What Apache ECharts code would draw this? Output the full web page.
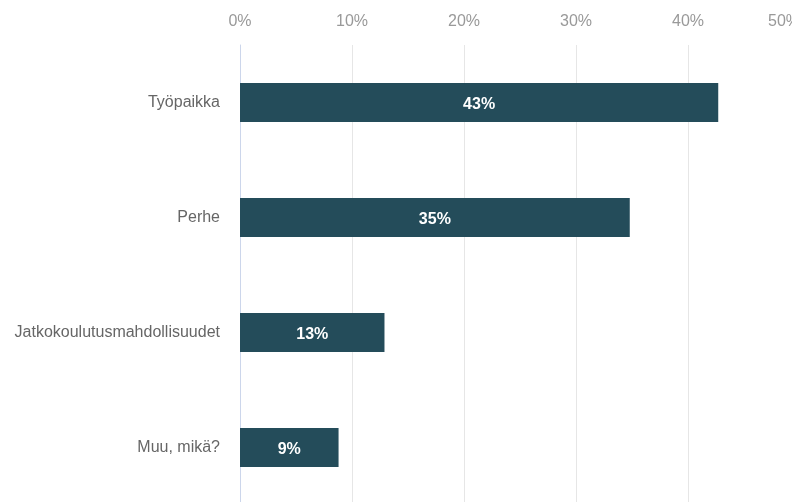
<!DOCTYPE html>
<html><head><meta charset="utf-8">
<script src="https://cdn.jsdelivr.net/npm/echarts@6/dist/echarts.min.js"></script>
<style>html,body{margin:0;padding:0;background:#fff}#c{width:792px;height:502px}</style>
</head><body><div id="c"></div>
<script>
const categories = ["Työpaikka", "Perhe", "Jatkokoulutusmahdollisuudet", "Muu, mikä?"];
const values = [42.7, 34.8, 12.9, 8.8];
const tickLabels = ["0%", "10%", "20%", "30%", "40%", "50%"];

const chart = echarts.init(document.getElementById('c'), null, {renderer: 'canvas'});
chart.setOption({
  animation: false,
  textStyle: {fontFamily: 'Liberation Sans, Arial, sans-serif'},
  grid: {left: 240, top: 45, width: 560, height: 460, containLabel: false, outerBoundsMode: 'none'},
  xAxis: {
    type: 'value', position: 'top', min: 0, max: 50, interval: 10,
    axisLine: {show: false}, axisTick: {show: false},
    splitLine: {lineStyle: {color: '#e6e6e6', width: 1}},
    axisLabel: {color: '#999999', fontSize: 16, margin: 15, alignMaxLabel: 'right',
      formatter: (v) => tickLabels[Math.round(v / 10)]}
  },
  yAxis: {
    type: 'category', data: categories, inverse: true,
    axisLine: {show: true, lineStyle: {color: '#ccd6eb'}},
    axisTick: {show: false},
    axisLabel: {color: '#666666', fontSize: 16, margin: 20}
  },
  series: [{
    type: 'bar', data: values, barWidth: 39,
    itemStyle: {color: '#244c5a'},
    label: {show: true, position: 'inside', offset: [0, 2], color: '#ffffff', fontSize: 16, fontWeight: 'bold',
      formatter: (p) => Math.round(p.value) + '%'}
  }]
});
</script></body></html>
